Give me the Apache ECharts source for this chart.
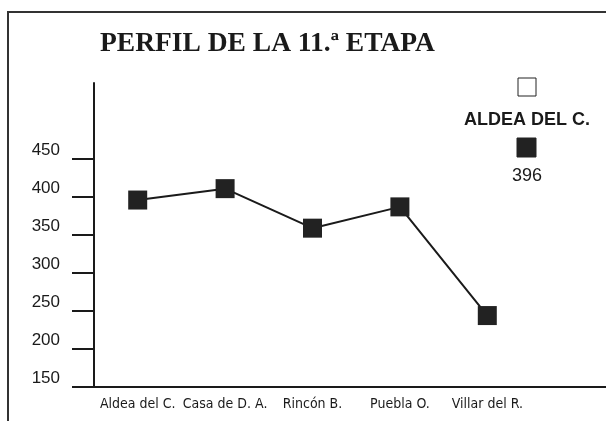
<!DOCTYPE html>
<html>
<head>
<meta charset="utf-8">
<script src="https://cdn.jsdelivr.net/npm/echarts@6/dist/echarts.min.js"></script>
<style>html,body{margin:0;padding:0;background:#fff}#c{width:606px;height:421px}</style>
</head>
<body>
<div id="c"></div>
<script>
var titleText = 'PERFIL DE LA 11.ª ETAPA';
var categories = ['Aldea del C.', 'Casa de D. A.', 'Rincón B.', 'Puebla O.', 'Villar del R.'];
var altitudes = [396, 411, 359, 387, 244];
var yTickValues = [150, 200, 250, 300, 350, 400, 450];
var highlightIndex = 0;

var chart = echarts.init(document.getElementById('c'));
var gridLeft = 94, gridRight = 75, gridTop = 83, gridBottom = 34;
var ink = '#1a1a1a';

chart.setOption({
  backgroundColor: '#fff',
  animation: false,
  title: {
    text: titleText,
    left: 95,
    top: 25,
    textStyle: { fontFamily: 'Liberation Serif', fontWeight: 'bold', fontSize: 27.5, color: ink }
  },
  grid: { left: gridLeft, right: gridRight, top: gridTop, bottom: gridBottom },
  xAxis: {
    type: 'category',
    data: categories,
    boundaryGap: true,
    axisLine: { show: true, lineStyle: { color: ink, width: 2 } },
    axisTick: { show: false },
    axisLabel: { interval: 0, margin: 10, fontSize: 14, color: ink, fontStyle: 'condensed', fontFamily: 'DejaVu Sans' },
    splitLine: { show: false }
  },
  yAxis: {
    type: 'value',
    min: 150, max: 550, interval: 50,
    axisLine: { show: true, lineStyle: { color: ink, width: 2 } },
    axisTick: { show: true, length: 22, customValues: yTickValues, lineStyle: { color: ink, width: 2 } },
    axisLabel: { customValues: yTickValues, margin: 34, verticalAlign: 'bottom', fontSize: 17, color: ink, fontFamily: 'Liberation Sans' },
    splitLine: { show: false }
  },
  series: [{
    type: 'line',
    data: altitudes,
    symbol: 'rect',
    symbolSize: 19,
    itemStyle: { color: '#222' },
    lineStyle: { color: ink, width: 2 }
  }],
  graphic: [
    { type: 'rect', shape: { x: 8, y: 12, width: 620, height: 430 }, style: { fill: 'none', stroke: '#333', lineWidth: 2 }, z: 100 },
    { type: 'line', shape: { x1: 606 - gridRight, y1: 421 - gridBottom, x2: 606, y2: 421 - gridBottom }, style: { stroke: ink, lineWidth: 2 }, z: 100 },
    { type: 'rect', shape: { x: 518, y: 78, width: 18, height: 18 }, style: { fill: '#fff', stroke: '#222', lineWidth: 1 }, z: 100 },
    { type: 'text', x: 527, y: 120, style: { text: categories[highlightIndex].toUpperCase(), fontFamily: 'Liberation Sans', fontWeight: 'bold', fontSize: 18, fill: ink, align: 'center', verticalAlign: 'middle' }, z: 100 },
    { type: 'rect', shape: { x: 517, y: 138, width: 19, height: 19 }, style: { fill: '#222', stroke: '#222', lineWidth: 1 }, z: 100 },
    { type: 'text', x: 527, y: 176, style: { text: String(altitudes[highlightIndex]), fontFamily: 'Liberation Sans', fontSize: 18, fill: ink, align: 'center', verticalAlign: 'middle' }, z: 100 }
  ]
});
</script>
</body>
</html>
